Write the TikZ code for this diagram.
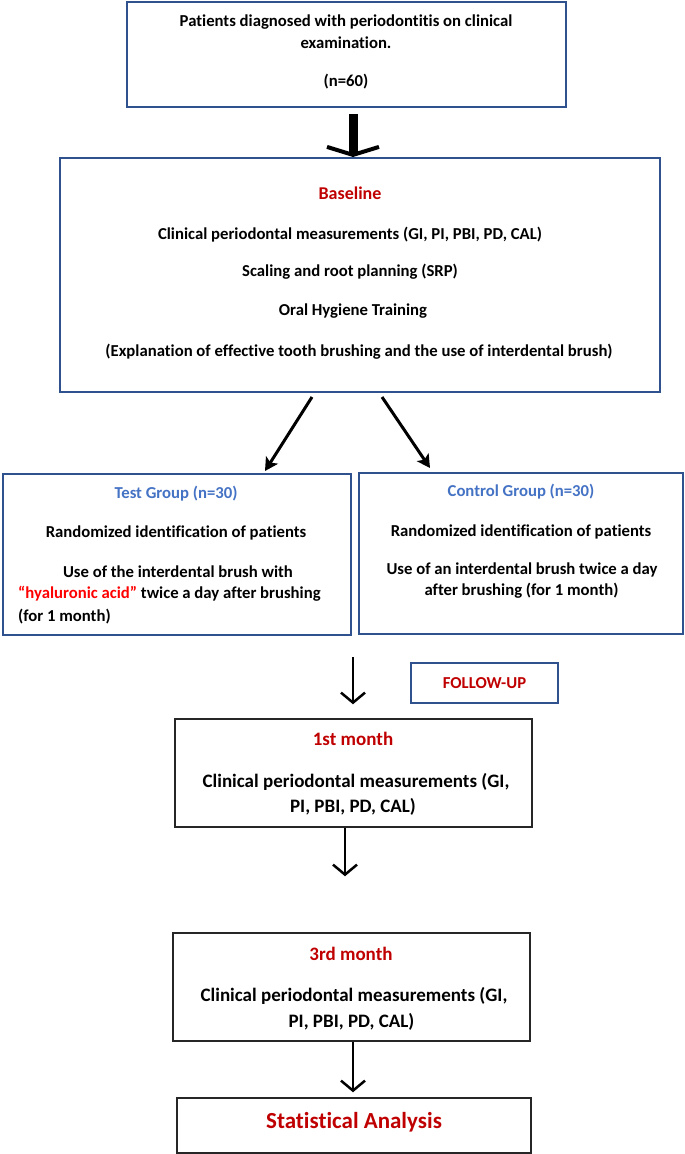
\documentclass[tikz,border=0pt]{standalone}
\usepackage{fontspec}
\setmainfont{Carlito}[Ligatures=NoCommon]
\usetikzlibrary{arrows.meta}
\definecolor{navy}{HTML}{2F528F}
\definecolor{dred}{HTML}{C00000}
\definecolor{tblue}{HTML}{4472C4}
\definecolor{bred}{HTML}{FF0000}
\definecolor{gbord}{HTML}{262626}
\tikzset{
  nbox/.style={draw=navy, line width=2pt, minimum width=#1, inner sep=0pt},
  gbox/.style={draw=gbord, line width=1.5pt, minimum width=#1, inner sep=0pt},
  txt/.style={inner sep=0pt, font=\fontsize{16.7}{19}\selectfont\bfseries},
  ttl/.style={txt, text=dred, font=\fontsize{19}{22}\selectfont\bfseries},
  thin arrow/.style={line width=2.5pt, -{Straight Barb[length=10pt,width=24pt]}},
  diag arrow/.style={line width=3pt, -{Stealth[length=13pt,width=14pt,inset=3pt]}},
}
\begin{document}
\begin{tikzpicture}[x=1pt,y=-1pt]
\useasboundingbox[fill=white] (0,0) rectangle (685,1154);
% boxes
\node[nbox=439pt, minimum height=105pt] (top) at (346.5,54.5) {};
\node[nbox=600pt, minimum height=234pt] (base) at (360,275) {};
\node[nbox=348pt, minimum height=161pt] (test) at (177,554.5) {};
\node[nbox=324pt, minimum height=161pt] (ctrl) at (521,553.5) {};
\node[nbox=147pt, minimum height=40pt] (follow) at (484.5,683) {};
\node[gbox=357pt, minimum height=108pt] (m1) at (353.5,773) {};
\node[gbox=357pt, minimum height=108pt] (m3) at (351.5,987) {};
\node[gbox=354pt, minimum height=55pt] (stat) at (354,1125.5) {};
% texts
\node[txt] (t1) at (346,22) {Patients diagnosed with periodontitis on clinical};
\node[txt] (t2) at (346,43) {examination.};
\node[txt] (t3) at (346,82) {(n=60)};
\node[ttl, font=\fontsize{18}{21}\selectfont\bfseries] (b0) at (350,193) {Baseline};
\node[txt] (b1) at (350,235) {Clinical periodontal measurements (GI, PI, PBI, PD, CAL)};
\node[txt] (b2) at (350,272) {Scaling and root planning (SRP)};
\node[txt] (b3) at (353,311) {Oral Hygiene Training};
\node[txt] (b4) at (359,352) {(Explanation of effective tooth brushing and the use of interdental brush)};
\node[txt, text=tblue] (g0) at (176,494) {Test Group (n=30)};
\node[txt] (g1) at (176,533) {Randomized identification of patients};
\node[txt] (g2) at (178,572) {Use of the interdental brush with};
\node[txt, anchor=west] (g3) at (18,594) {{\color{bred}“hyaluronic acid”} twice a day after brushing};
\node[txt, anchor=west] (g4) at (18,617) {(for 1 month)};
\node[txt, text=tblue] (c0) at (521,492) {Control Group (n=30)};
\node[txt] (c1) at (521,532) {Randomized identification of patients};
\node[txt] (c2) at (522,570) {Use of an interdental brush twice a day};
\node[txt] (c3) at (521.5,591) {after brushing (for 1 month)};
\node[txt, text=dred] (f0) at (484.5,683) {FOLLOW-UP};
\node[ttl] (m1a) at (353,739) {1st month};
\node[txt, font=\fontsize{19}{22}\selectfont\bfseries] (m1b) at (356,782) {Clinical periodontal measurements (GI,};
\node[txt, font=\fontsize{19}{22}\selectfont\bfseries] (m1c) at (353,807) {PI, PBI, PD, CAL)};
\node[ttl] (m3a) at (351,954) {3rd month};
\node[txt, font=\fontsize{19}{22}\selectfont\bfseries] (m3b) at (354,996) {Clinical periodontal measurements (GI,};
\node[txt, font=\fontsize{19}{22}\selectfont\bfseries] (m3c) at (351.5,1022) {PI, PBI, PD, CAL)};
\node[ttl, font=\fontsize{23}{26}\selectfont\bfseries] (s0) at (354,1122) {Statistical Analysis};
% connectors
\draw[line width=9pt, -{Straight Barb[length=8pt,width=52pt,line width=4pt]}]
  ([xshift=6.5pt,yshift=-6pt]top.south) -- ([xshift=-7pt,yshift=0pt]base.north);
\draw[diag arrow] ([xshift=-48pt,yshift=-4pt]base.south) -- ([xshift=88pt,yshift=2pt]test.north);
\draw[diag arrow] ([xshift=22pt,yshift=-4pt]base.south) -- ([xshift=-91pt,yshift=4pt]ctrl.north);
\coordinate (split) at (353,657);
\draw[thin arrow, shorten >=14pt] (split) -- ([xshift=-0.5pt]m1.north);
\draw[thin arrow, shorten >=56pt] ([xshift=-8.5pt]m1.south) -- ([xshift=-6.5pt]m3.north);
\draw[thin arrow, shorten >=5pt] ([xshift=1.5pt]m3.south) -- ([xshift=-1pt]stat.north);
\end{tikzpicture}
\end{document}
